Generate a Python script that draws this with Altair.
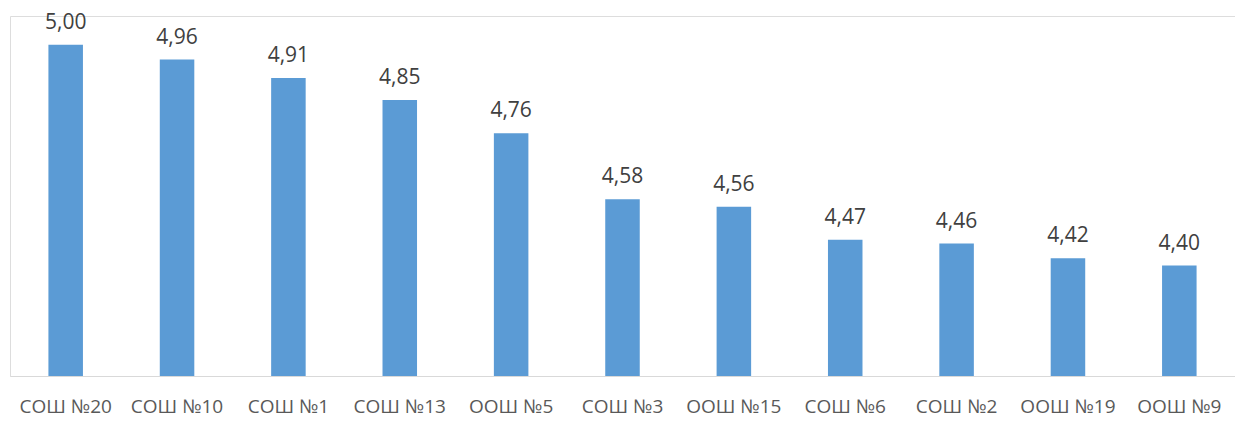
import altair as alt
import pandas as pd

categories = ["СОШ №20", "СОШ №10", "СОШ №1", "СОШ №13", "ООШ №5", "СОШ №3",
              "ООШ №15", "СОШ №6", "СОШ №2", "ООШ №19", "ООШ №9"]
values = [5.00, 4.96, 4.91, 4.85, 4.76, 4.58, 4.56, 4.47, 4.46, 4.42, 4.40]

df = pd.DataFrame({"cat": categories, "val": values})
df["label"] = df["val"].map(lambda v: f"{v:.2f}".replace(".", ","))

x = alt.X("cat:N", sort=categories, title=None,
          scale=alt.Scale(paddingInner=0.69, paddingOuter=0.345),
          axis=alt.Axis(labelAngle=0, ticks=False, domainColor="#D9D9D9",
                        domainWidth=1, labelFont="Open Sans", labelFontSize=19,
                        labelColor="#595959", labelPadding=21, labelLimit=200))
y = alt.Y("val:Q", title=None,
          scale=alt.Scale(domain=[4.1, 5.0783], zero=False, nice=False, clamp=True),
          axis=None)

bars = alt.Chart(df).mark_bar(color="#5B9BD5").encode(x=x, y=y)
labels = alt.Chart(df).mark_text(baseline="alphabetic", dy=-16, font="Open Sans",
                                 fontSize=21, color="#404040").encode(
    x=alt.X("cat:N", sort=categories), y="val:Q", text="label:N")

chart = (bars + labels).properties(
    width=1225, height=360,
    autosize=alt.AutoSizeParams(type="none"),
    padding={"left": 2, "top": 8, "right": 0, "bottom": 46},
).configure_view(stroke=None).configure(background="white")

chart.save("out.html", embed_options={"renderer": "svg", "actions": False})
